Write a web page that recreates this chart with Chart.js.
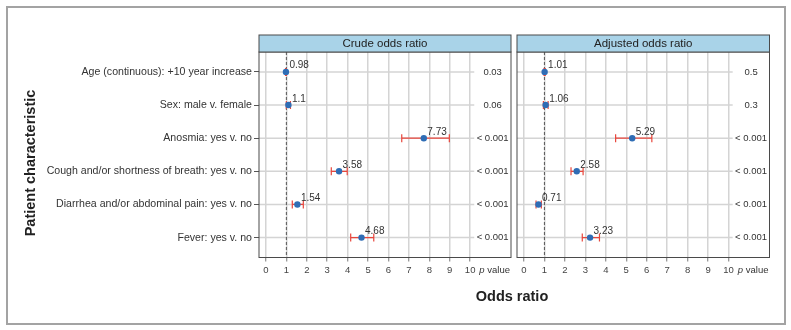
<!DOCTYPE html>
<html>
<head>
<meta charset="utf-8">
<script src="https://cdn.jsdelivr.net/npm/chart.js@4"></script>
<style>
  html, body { margin: 0; padding: 0; background: #fff; }
  #wrap { position: relative; width: 791px; height: 330px; }
  #frame { position: absolute; left: 6px; top: 6px; width: 776px; height: 315px; border: 2px solid #a3a3a3; }
  canvas { position: absolute; left: 0; top: 0; }
</style>
</head>
<body>
<div id="wrap">
  <div id="frame"></div>
  <canvas id="crudeChart" width="791" height="330"></canvas>
  <canvas id="adjChart" width="791" height="330"></canvas>
</div>
<script>
// Rows, top to bottom
const characteristics = [
    'Age (continuous): +10 year increase',
    'Sex: male v. female',
    'Anosmia: yes v. no',
    'Cough and/or shortness of breath: yes v. no',
    'Diarrhea and/or abdominal pain: yes v. no',
    'Fever: yes v. no'
];

// Crude odds ratios with 95% CI
const crudeOR = [0.98, 1.1, 7.73, 3.58, 1.54, 4.68];
const crudeLow = [0.96, 1.0, 6.65, 3.2, 1.29, 4.15];
const crudeHigh = [1.0, 1.2, 8.98, 3.98, 1.83, 5.28];
const crudeP = ['0.03', '0.06', '< 0.001', '< 0.001', '< 0.001', '< 0.001'];

// Adjusted odds ratios with 95% CI
const adjOR = [1.01, 1.06, 5.29, 2.58, 0.71, 3.23];
const adjLow = [0.98, 0.95, 4.48, 2.3, 0.59, 2.85];
const adjHigh = [1.04, 1.18, 6.25, 2.89, 0.85, 3.69];
const adjP = ['0.5', '0.3', '< 0.001', '< 0.001', '< 0.001', '< 0.001'];

const xTicks = [0, 1, 2, 3, 4, 5, 6, 7, 8, 9, 10];

Chart.defaults.font.family = '"Liberation Sans", Arial, sans-serif';
Chart.defaults.color = '#333';

const colors = {
    point: '#2f6db5',
    ci: '#e8463c',
    grid: '#d4d4d4',
    border: '#4a4a4a',
    strip: '#a9d3e8'
};

// Draws panel frame, strip header, gridlines, CI bars and labels
const forestPlugin = {
    id: 'forest',
    beforeDatasetsDraw(chart, args, opts) {
        const ctx = chart.ctx;
        const area = chart.chartArea;
        const x = chart.scales.x;
        const y = chart.scales.y;
        ctx.save();
        // horizontal gridlines, stop before the p value column
        ctx.strokeStyle = colors.grid;
        ctx.lineWidth = 1.5;
        characteristics.forEach((c, i) => {
            const py = y.getPixelForValue(i);
            ctx.beginPath();
            ctx.moveTo(area.left, py);
            ctx.lineTo(x.getPixelForValue(10.2), py);
            ctx.stroke();
        });
        // reference line at OR = 1
        ctx.strokeStyle = '#555';
        ctx.lineWidth = 1;
        ctx.setLineDash([3, 2]);
        ctx.beginPath();
        ctx.moveTo(x.getPixelForValue(1), area.top);
        ctx.lineTo(x.getPixelForValue(1), area.bottom);
        ctx.stroke();
        ctx.setLineDash([]);
        // confidence intervals
        ctx.strokeStyle = colors.ci;
        ctx.lineWidth = 1.2;
        opts.low.forEach((lo, i) => {
            const py = y.getPixelForValue(i);
            const x1 = x.getPixelForValue(lo);
            const x2 = x.getPixelForValue(opts.high[i]);
            ctx.beginPath();
            ctx.moveTo(x1, py);
            ctx.lineTo(x2, py);
            ctx.moveTo(x1, py - 4);
            ctx.lineTo(x1, py + 4);
            ctx.moveTo(x2, py - 4);
            ctx.lineTo(x2, py + 4);
            ctx.stroke();
        });
        ctx.restore();
    },
    afterDatasetsDraw(chart, args, opts) {
        const ctx = chart.ctx;
        const area = chart.chartArea;
        const x = chart.scales.x;
        const y = chart.scales.y;
        ctx.save();
        // value labels
        ctx.fillStyle = '#333';
        ctx.font = '10px "Liberation Sans", Arial, sans-serif';
        ctx.textAlign = 'left';
        ctx.textBaseline = 'alphabetic';
        opts.or.forEach((v, i) => {
            ctx.fillText(String(v), x.getPixelForValue(v) + 3.5, y.getPixelForValue(i) - 3.5);
        });
        // p values
        ctx.font = '9.5px "Liberation Sans", Arial, sans-serif';
        ctx.textAlign = 'center';
        ctx.textBaseline = 'middle';
        opts.p.forEach((p, i) => {
            ctx.fillText(p, x.getPixelForValue(11.1), y.getPixelForValue(i));
        });
        // "p value" next to x tick labels
        const ly = area.bottom + 12.5;
        ctx.textAlign = 'right';
        ctx.fillText('value', area.right - 1, ly);
        const w = ctx.measureText(' value').width;
        ctx.font = 'italic 9.5px "Liberation Sans", Arial, sans-serif';
        ctx.fillText('p', area.right - 1 - w, ly);
        // panel frame
        ctx.strokeStyle = colors.border;
        ctx.lineWidth = 1;
        ctx.strokeRect(area.left, area.top, area.right - area.left, area.bottom - area.top);
        // strip header
        const top = area.top - 17;
        ctx.fillStyle = colors.strip;
        ctx.fillRect(area.left, top, area.right - area.left, 17);
        ctx.strokeRect(area.left, top, area.right - area.left, 17);
        ctx.fillStyle = '#222';
        ctx.font = '11.5px "Liberation Sans", Arial, sans-serif';
        ctx.textAlign = 'center';
        ctx.fillText(opts.title, (area.left + area.right) / 2, top + 9);
        // axis titles (only on the left chart)
        if (opts.axisTitles) {
            ctx.font = 'bold 14.5px "Liberation Sans", Arial, sans-serif';
            ctx.fillStyle = '#222';
            ctx.fillText('Odds ratio', 512, 297);
            ctx.translate(31, 163);
            ctx.rotate(-Math.PI / 2);
            ctx.fillText('Patient characteristic', 0, 0);
        }
        ctx.restore();
    }
};

function makePanel(canvasId, title, or, low, high, p, showLabels, padLeft, padRight) {
    return new Chart(document.getElementById(canvasId), {
        type: 'scatter',
        data: {
            datasets: [{
                label: title,
                data: or.map((v, i) => ({ x: v, y: i })),
                backgroundColor: colors.point,
                borderColor: colors.point,
                borderWidth: 0,
                pointRadius: 3.2,
                pointHoverRadius: 3.2
            }]
        },
        options: {
            responsive: false,
            animation: false,
            layout: { padding: { top: 52, left: padLeft, right: padRight, bottom: 0 } },
            plugins: {
                legend: { display: false },
                tooltip: { enabled: false },
                forest: { or: or, low: low, high: high, p: p, title: title, axisTitles: showLabels }
            },
            scales: {
                x: {
                    type: 'linear',
                    min: -0.34,
                    max: 12.0,
                    afterBuildTicks: s => { s.ticks = xTicks.map(v => ({ value: v })); },
                    afterFit: s => { s.height = 72.5; },
                    border: { display: false },
                    grid: { color: colors.grid, lineWidth: 1.5, tickColor: '#777', tickLength: 4, tickWidth: 1 },
                    ticks: { font: { size: 9.5 }, color: '#444', padding: 3, maxRotation: 0 }
                },
                y: {
                    type: 'linear',
                    reverse: true,
                    min: -0.6,
                    max: 5.6,
                    display: showLabels,
                    afterBuildTicks: s => { s.ticks = characteristics.map((c, i) => ({ value: i })); },
                    afterFit: s => { if (showLabels) s.width = 259; },
                    border: { display: false },
                    grid: { drawOnChartArea: false, tickColor: '#555', tickLength: 5 },
                    ticks: {
                        font: { size: 10.6 },
                        color: '#333',
                        padding: 2,
                        callback: v => characteristics[v]
                    }
                }
            }
        },
        plugins: [forestPlugin]
    });
}

makePanel('crudeChart', 'Crude odds ratio', crudeOR, crudeLow, crudeHigh, crudeP, true, 0, 280);
makePanel('adjChart', 'Adjusted odds ratio', adjOR, adjLow, adjHigh, adjP, false, 517, 21.5);
</script>
</body>
</html>
